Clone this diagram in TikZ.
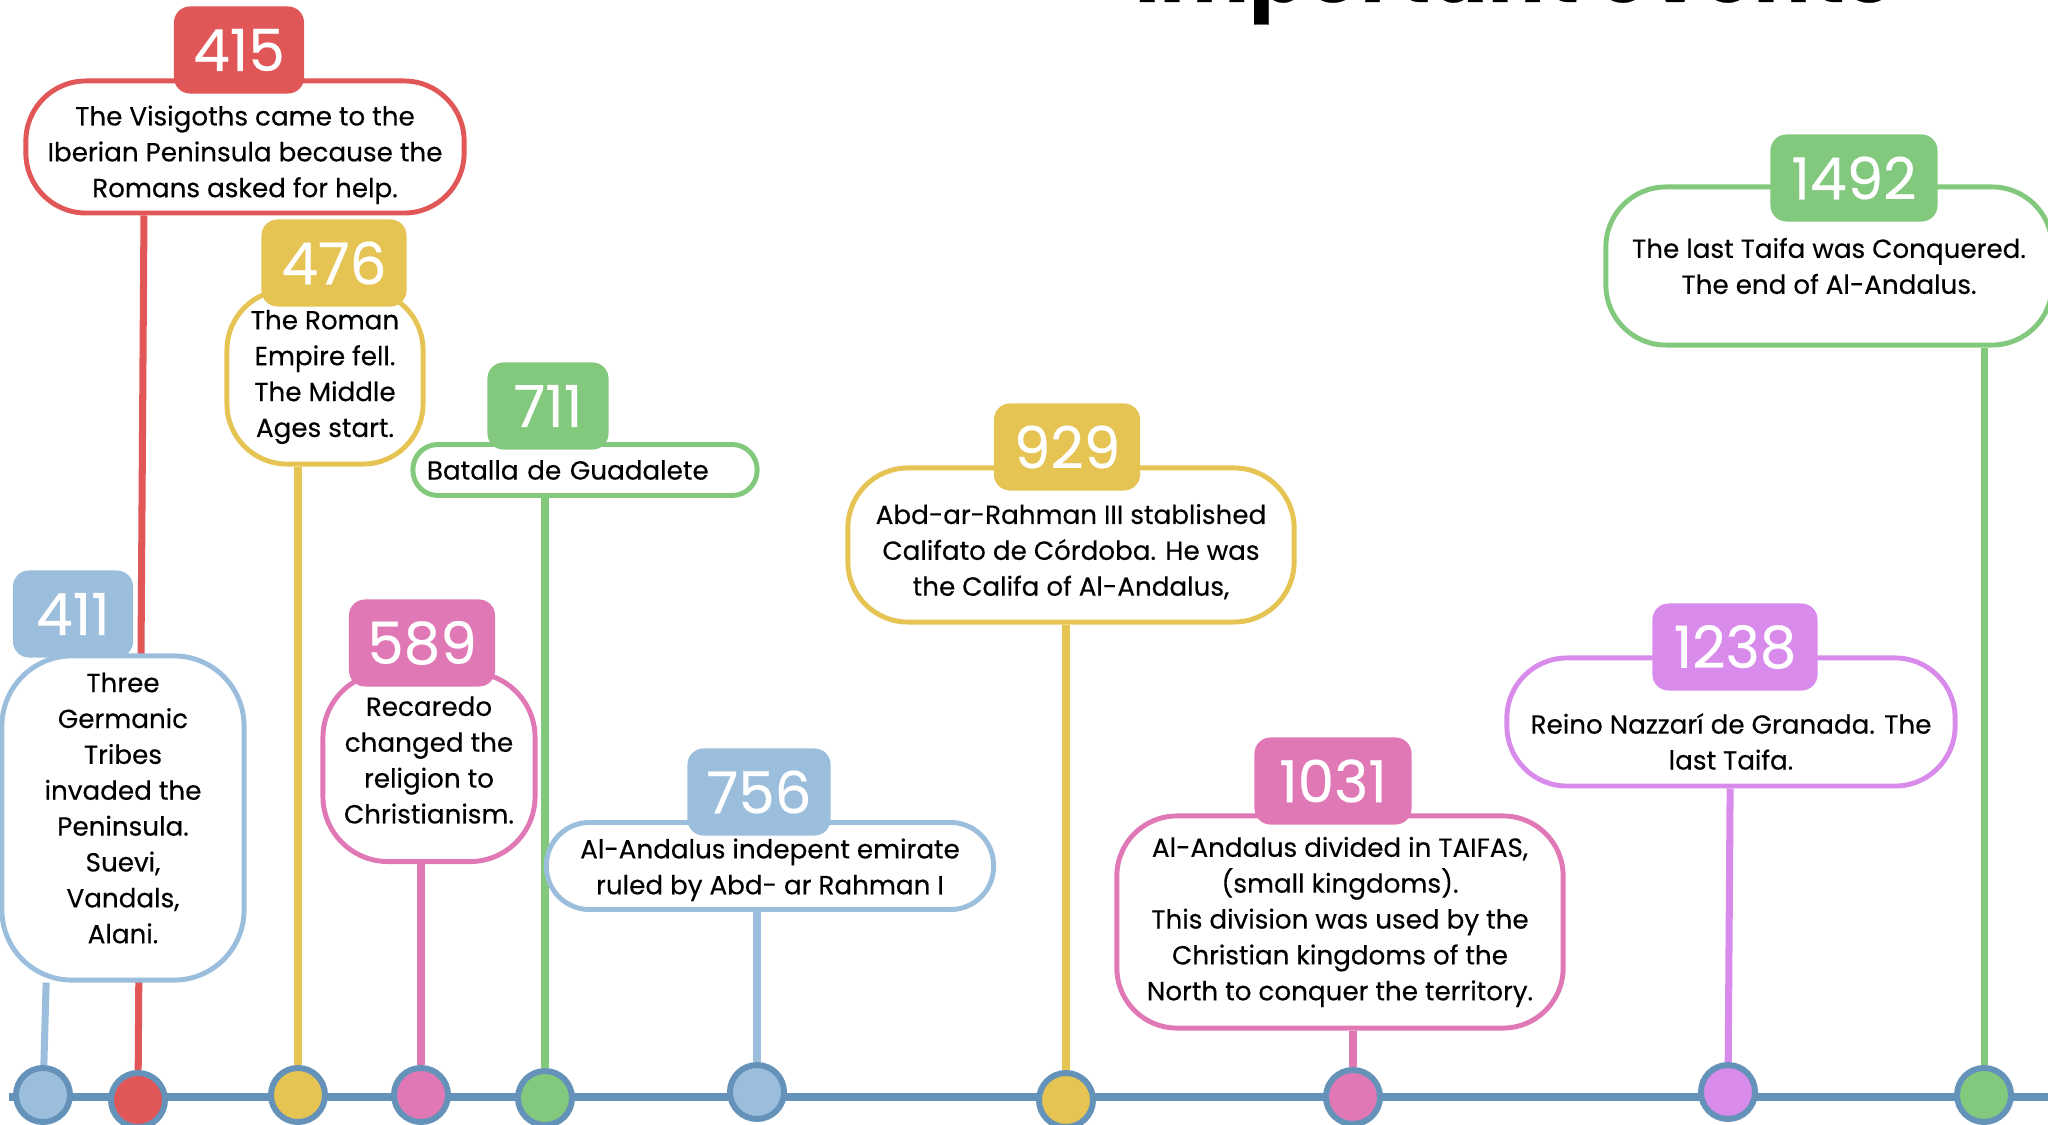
\documentclass[tikz,border=0pt]{standalone}
\usepackage{fontspec}
\setmainfont{Poppins}[FakeBold=0.35]
\usetikzlibrary{positioning}
\pgfdeclarelayer{background}
\pgfsetlayers{background,main}
\definecolor{redev}{HTML}{E15656}
\definecolor{yellowev}{HTML}{E5C453}
\definecolor{greenev}{HTML}{82C97E}
\definecolor{blueev}{HTML}{9BBEDC}
\definecolor{pinkev}{HTML}{E078B5}
\definecolor{violetev}{HTML}{D98BEC}
\definecolor{steel}{HTML}{6592B9}
\newcommand\evdown[1]{\rule{0pt}{#1}}
\newcommand\evup[1]{\rule[-#1]{0pt}{#1}}

\begin{document}
\begin{tikzpicture}[
	x=0.01cm, y=-0.01cm,
	evbox/.style={draw=#1, fill=white,
				  line width=1.4pt,
				  align=center,
				  font=\fontsize{7.45}{10.2}\selectfont,
				  inner sep=0pt
	},
	yeartab/.style={fill=#1, text=white,
					rounded corners=0.16cm,
					font=\fontsize{16.5}{16.5}\selectfont,
					minimum height=0.87cm,
					inner sep=0pt
	},
	evdot/.style={circle, fill=#1, draw=steel,
				  line width=1.7pt,
				  minimum size=0.54cm,
				  inner sep=0pt
	},
	evstem/.style={draw=#1, line width=2pt}
]
	\useasboundingbox (0,0) rectangle (2048,1125);
	\clip (0,0) rectangle (2048,1125);
	\node (title) [anchor=base west, font=\fontsize{24}{24}\selectfont\bfseries, inner sep=0pt] at (1134,2) {Important events};

	\coordinate (axisL) at (9,1097);
	\coordinate (axisR) at (2048,1097);

	\node (d411) [evdot=blueev] at (43,1095) {};
	\node (d415) [evdot=redev] at (138,1100) {};
	\node (d476) [evdot=yellowev] at (298,1095) {};
	\node (d589) [evdot=pinkev] at (421,1095) {};
	\node (d711) [evdot=greenev] at (545,1098) {};
	\node (d756) [evdot=blueev] at (757,1092) {};
	\node (d929) [evdot=yellowev] at (1066,1100) {};
	\node (d1031) [evdot=pinkev] at (1353,1097) {};
	\node (d1238) [evdot=violetev] at (1728,1092) {};
	\node (d1492) [evdot=greenev] at (1984,1095) {};

	\node (b415) [evbox=redev, minimum width=4.38cm, minimum height=1.32cm, rounded corners=0.6cm] at (245,147) {\evdown{10.1pt}The Visigoths came to the\\Iberian Peninsula because the\\Romans asked for help.};
	\node (b411) [evbox=blueev, minimum width=2.42cm, minimum height=3.24cm, rounded corners=0.7cm] at (123,818) {Three\\Germanic\\Tribes\\invaded the\\Peninsula.\\Suevi,\\Vandals,\\Alani.\evup{5.7pt}};
	\node (b476) [evbox=yellowev, minimum width=1.96cm, minimum height=1.74cm, rounded corners=0.6cm] at (325,377) {The Roman\\Empire fell.\\The Middle\\Ages start.};
	\node (b589) [evbox=pinkev, minimum width=2.12cm, minimum height=1.89cm, rounded corners=0.65cm] at (429,767) {Recaredo\\changed the\\religion to\\Christianism.\evup{4pt}};
	\node (b711) [evbox=greenev, text width=3.16cm, align=left, inner xsep=0.14cm, minimum height=0.51cm, rounded corners=0.25cm] at (585,470) {Batalla de Guadalete};
	\node (b756) [evbox=blueev, minimum width=4.47cm, minimum height=0.87cm, rounded corners=0.43cm] at (770,866) {\evdown{7.8pt}Al-Andalus indepent emirate\\ruled by Abd- ar Rahman I};
	\node (b929) [evbox=yellowev, minimum width=4.46cm, minimum height=1.54cm, rounded corners=0.6cm] at (1071,545) {\evdown{9.5pt}Abd-ar-Rahman III stablished\\Califato de Córdoba. He was\\the Califa of Al-Andalus,};
	\node (b1031) [evbox=pinkev, minimum width=4.46cm, minimum height=2.12cm, rounded corners=0.6cm] at (1340,922) {Al-Andalus divided in TAIFAS,\\(small kingdoms).\\This division was used by the\\Christian kingdoms of the\\North to conquer the territory.};
	\node (b1238) [evbox=violetev, minimum width=4.48cm, minimum height=1.28cm, rounded corners=0.6cm] at (1731,722) {\evdown{16.9pt}Reino Nazzarí de Granada. The\\last Taifa.};
	\node (b1492) [evbox=greenev, minimum width=4.46cm, minimum height=1.58cm, rounded corners=0.6cm] at (1829,266) {The last Taifa was Conquered.\\The end of Al-Andalus.};

	\node (y415) [yeartab=redev, minimum width=1.30cm] at (239,50) {415};
	\node (y411) [yeartab=blueev, minimum width=1.20cm] at (73,614) {411};
	\node (y476) [yeartab=yellowev, minimum width=1.45cm] at (334,263) {476};
	\node (y589) [yeartab=pinkev, minimum width=1.46cm] at (422,643) {589};
	\node (y711) [yeartab=greenev, minimum width=1.21cm] at (548,406) {711};
	\node (y756) [yeartab=blueev, minimum width=1.43cm] at (759,792) {756};
	\node (y929) [yeartab=yellowev, minimum width=1.46cm] at (1067,447) {929};
	\node (y1031) [yeartab=pinkev, minimum width=1.57cm] at (1333,781) {1031};
	\node (y1238) [yeartab=violetev, minimum width=1.65cm] at (1735,647) {1238};
	\node (y1492) [yeartab=greenev, minimum width=1.67cm] at (1854,178) {1492};

	\begin{pgfonlayer}{background}
	\draw[steel, line width=2.3pt] (axisL) -- (axisR);
	\draw[evstem=blueev] ([xshift=0.9pt]b411.south -| d411) -- (d411);
	\draw[evstem=redev] ([xshift=1.7pt]b415.south -| d415) -- (d415);
	\draw[evstem=yellowev] (b476.south -| d476) -- (d476);
	\draw[evstem=pinkev] (b589.south -| d589) -- (d589);
	\draw[evstem=greenev] (b711.south -| d711) -- (d711);
	\draw[evstem=blueev] (b756.south -| d756) -- (d756);
	\draw[evstem=yellowev] (b929.south -| d929) -- (d929);
	\draw[evstem=pinkev] (b1031.south -| d1031) -- (d1031);
	\draw[evstem=violetev] ([xshift=0.6pt]b1238.south -| d1238) -- (d1238);
	\draw[evstem=greenev] (b1492.south -| d1492) -- (d1492);
	\end{pgfonlayer}
\end{tikzpicture}
\end{document}
